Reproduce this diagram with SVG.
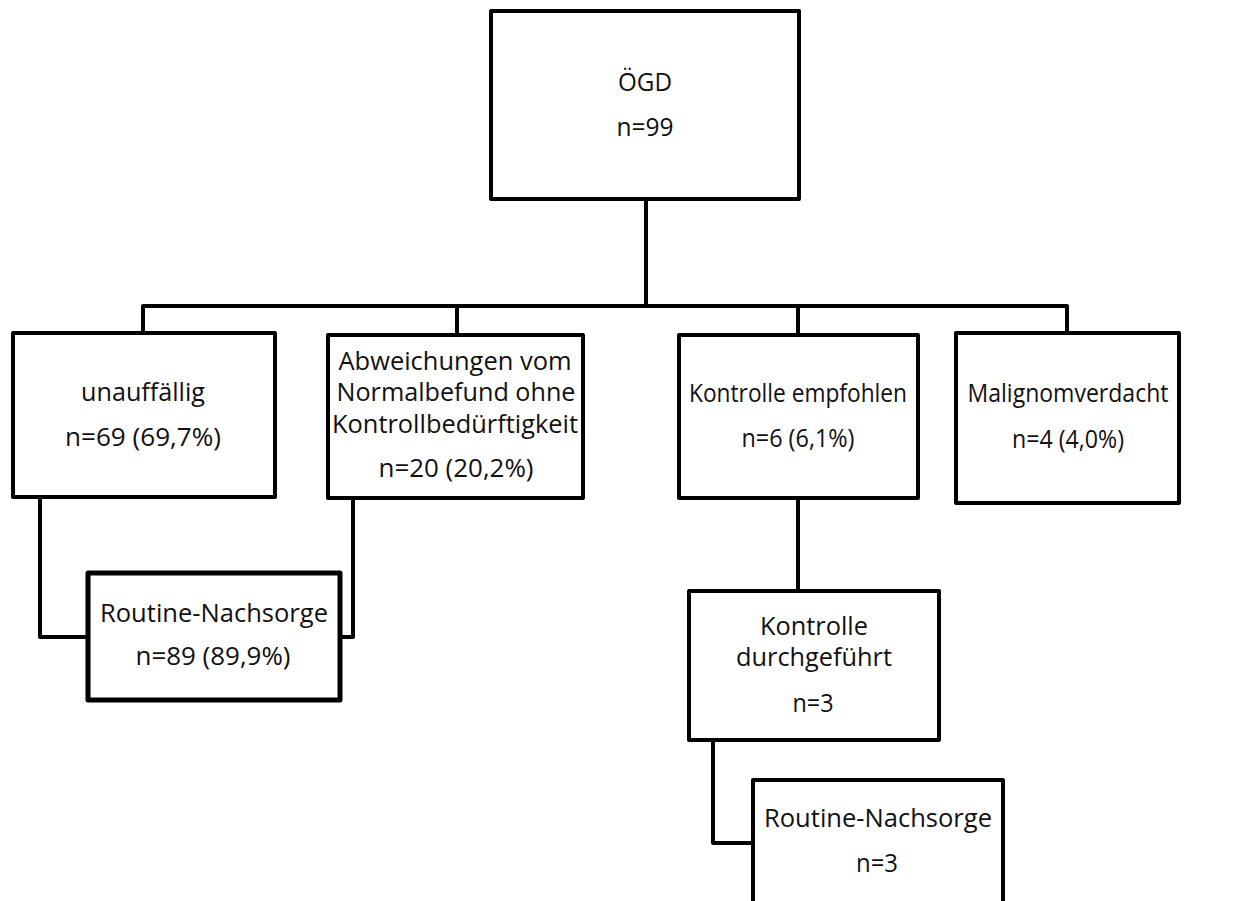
<svg xmlns="http://www.w3.org/2000/svg" width="1240" height="901" viewBox="0 0 1240 901">
  <style>
    .box { fill: #ffffff; stroke: #000000; stroke-width: 4; stroke-linejoin: round; }
    .thick { stroke-width: 5; }
    .wire { fill: none; stroke: #000000; stroke-width: 4; stroke-linejoin: round; }
    text { font-family: "Open Sans", "Liberation Sans", sans-serif; font-size: 25px; fill: #111111; text-anchor: middle; }
  </style>
  <rect width="1240" height="901" fill="#ffffff"/>

  <!-- connectors -->
  <g id="connectors">
    <path class="wire" d="M646,199 V306"/>
    <path class="wire" d="M143,333 V306 H1067 V333"/>
    <path class="wire" d="M457,306 V335"/>
    <path class="wire" d="M798,306 V335"/>
    <path class="wire" d="M40,497 V637 H88"/>
    <path class="wire" d="M353,498 V637 H340"/>
    <path class="wire" d="M798,498 V591"/>
    <path class="wire" d="M713,740 V843 H753"/>
  </g>

  <!-- nodes -->
  <g id="node-oegd">
    <rect class="box" x="491" y="11" width="308" height="188"/>
    <text x="645" y="91" textLength="54" lengthAdjust="spacingAndGlyphs">ÖGD</text>
    <text x="645" y="136" textLength="57" lengthAdjust="spacingAndGlyphs">n=99</text>
  </g>

  <g id="node-unauffaellig">
    <rect class="box" x="13" y="333" width="262" height="164"/>
    <text x="143" y="401" textLength="124" lengthAdjust="spacingAndGlyphs">unauffällig</text>
    <text x="143" y="446" textLength="156" lengthAdjust="spacingAndGlyphs">n=69 (69,7%)</text>
  </g>

  <g id="node-abweichungen">
    <rect class="box" x="328" y="335" width="255" height="163"/>
    <text x="455" y="370" textLength="233" lengthAdjust="spacingAndGlyphs">Abweichungen vom</text>
    <text x="456" y="401" textLength="239" lengthAdjust="spacingAndGlyphs">Normalbefund ohne</text>
    <text x="455" y="433" textLength="246" lengthAdjust="spacingAndGlyphs">Kontrollbedürftigkeit</text>
    <text x="456" y="477" textLength="155" lengthAdjust="spacingAndGlyphs">n=20 (20,2%)</text>
  </g>

  <g id="node-kontrolle-empfohlen">
    <rect class="box" x="679" y="335" width="239" height="163"/>
    <text x="798" y="402" textLength="218" lengthAdjust="spacingAndGlyphs">Kontrolle empfohlen</text>
    <text x="798" y="447" textLength="113" lengthAdjust="spacingAndGlyphs">n=6 (6,1%)</text>
  </g>

  <g id="node-malignomverdacht">
    <rect class="box" x="956" y="333" width="223" height="170"/>
    <text x="1068" y="402" textLength="201" lengthAdjust="spacingAndGlyphs">Malignomverdacht</text>
    <text x="1068" y="448" textLength="112" lengthAdjust="spacingAndGlyphs">n=4 (4,0%)</text>
  </g>

  <g id="node-routine-nachsorge-1">
    <rect class="box thick" x="88" y="573" width="252" height="127"/>
    <text x="214" y="622" textLength="228" lengthAdjust="spacingAndGlyphs">Routine-Nachsorge</text>
    <text x="213" y="665" textLength="155" lengthAdjust="spacingAndGlyphs">n=89 (89,9%)</text>
  </g>

  <g id="node-kontrolle-durchgefuehrt">
    <rect class="box" x="689" y="591" width="250" height="149"/>
    <text x="814" y="635" textLength="108" lengthAdjust="spacingAndGlyphs">Kontrolle</text>
    <text x="814" y="666" textLength="156" lengthAdjust="spacingAndGlyphs">durchgeführt</text>
    <text x="813" y="712" textLength="41" lengthAdjust="spacingAndGlyphs">n=3</text>
  </g>

  <g id="node-routine-nachsorge-2">
    <rect class="box" x="753" y="780" width="250" height="160"/>
    <text x="878" y="827" textLength="228" lengthAdjust="spacingAndGlyphs">Routine-Nachsorge</text>
    <text x="877" y="872" textLength="42" lengthAdjust="spacingAndGlyphs">n=3</text>
  </g>
</svg>
